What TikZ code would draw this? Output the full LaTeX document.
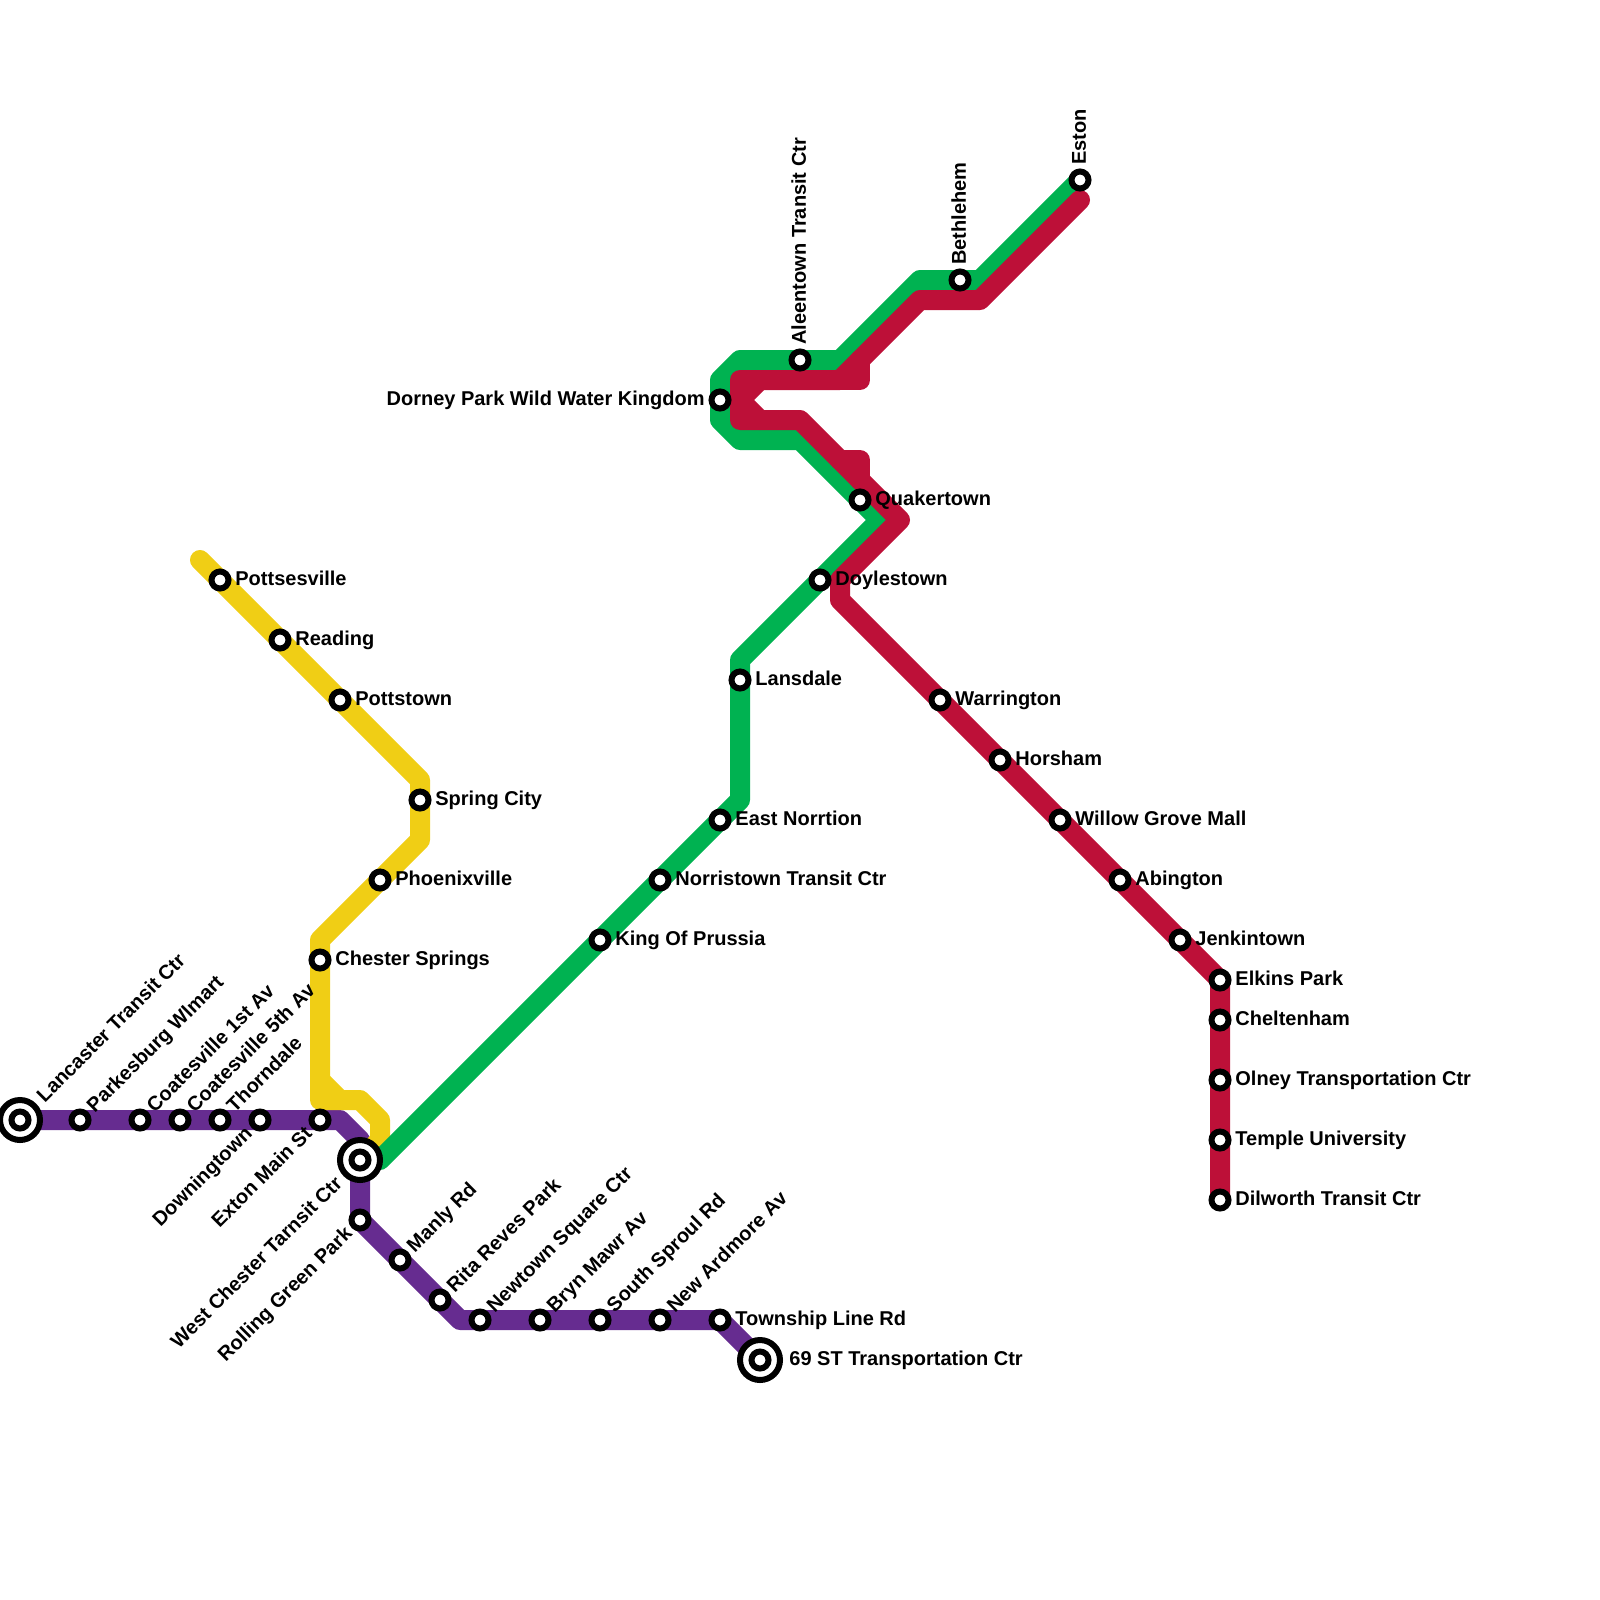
\documentclass[tikz,border=0pt]{standalone}
\usepackage{fontspec}
\setmainfont{Liberation Sans}
\usetikzlibrary{backgrounds}
\definecolor{linePurple}{RGB}{102,44,144}
\definecolor{lineYellow}{RGB}{240,206,21}
\definecolor{lineGreen}{RGB}{0,178,81}
\definecolor{lineRed}{RGB}{189,16,56}
\tikzset{
    railline/.style={line width=10pt, line join=round, line cap=round},
    stationstop/.style={circle, draw=black, fill=white, line width=3pt, minimum size=8.5pt, inner sep=0pt},
    stationring/.style={circle, draw=black, fill=white, line width=3pt, minimum size=20pt, inner sep=0pt},
    stationtext/.style={font=\bfseries\fontsize{10}{11}\selectfont, inner sep=0pt, text=black},
    txtright/.style={stationtext, anchor=base west, xshift=7.5pt, yshift=-2.9pt},
    txtfar/.style={stationtext, anchor=base west, xshift=14.5pt, yshift=-2.9pt},
    txtleft/.style={stationtext, anchor=base east, xshift=-7.5pt, yshift=-2.9pt},
    txtup/.style={stationtext, rotate=45, anchor=base west, xshift=7.5pt, yshift=-2.9pt},
    txtupfar/.style={stationtext, rotate=45, anchor=base west, xshift=14.5pt, yshift=-2.9pt},
    txtdown/.style={stationtext, rotate=45, anchor=base east, xshift=-7.5pt, yshift=-2.9pt},
    txtdownfar/.style={stationtext, rotate=45, anchor=base east, xshift=-14.5pt, yshift=-2.9pt},
    txtvert/.style={stationtext, rotate=90, anchor=base west, xshift=7.5pt, yshift=-2.9pt},
}

\begin{document}
\begin{tikzpicture}[x=0.5pt,y=-0.5pt]
    \useasboundingbox (0,0) rectangle (1600,1600);

    % interchange rings
    \node[stationring] (lancasterRing) at (20,1120) {};
    \node[stationring] (westchesterRing) at (360,1160) {};
    \node[stationring] (transportRing) at (760,1360) {};

    % stations
    \foreach \nm/\px/\py in {lancaster/20/1120, parkesburg/80/1120, coatesvilleA/140/1120,
        coatesvilleB/180/1120, thorndale/220/1120, downingtown/260/1120, exton/320/1120,
        westchester/360/1160, rollinggreen/360/1220, manly/400/1260, rita/440/1300,
        newtown/480/1320, brynmawr/540/1320, sproul/600/1320, ardmore/660/1320,
        township/720/1320, transport/760/1360,
        pottsesville/220/580, reading/280/640, pottstown/340/700, springcity/420/800,
        phoenixville/380/880, chester/320/960,
        prussia/600/940, norristown/660/880, eastnorrtion/720/820, lansdale/740/680,
        doylestown/820/580, quakertown/860/500, dorney/720/400, aleentown/800/360,
        bethlehem/960/280, eston/1080/180,
        warrington/940/700, horsham/1000/760, willowgrove/1060/820, abington/1120/880,
        jenkintown/1180/940, elkins/1220/980, cheltenham/1220/1020, olney/1220/1080,
        temple/1220/1140, dilworth/1220/1200}
        \node[stationstop] (\nm) at (\px,\py) {};

    \begin{scope}[on background layer]
        % purple line
        \draw[railline, linePurple] (lancaster.center) -- (exton.center) -- (340,1120) -- (360,1140)
            -- (westchester.center) -- (rollinggreen.center) -- (manly.center) -- (rita.center)
            -- (460,1320) -- (township.center) -- (transport.center);

        % yellow line
        \draw[railline, lineYellow] (200,560) -- (pottsesville.center) -- (reading.center)
            -- (pottstown.center) -- (420,780) -- (springcity.center) -- (420,840)
            -- (phoenixville.center) -- (320,940) -- (chester.center) -- (320,1100) -- (360,1100)
            -- (380,1120) -- (380,1140) -- (westchester.center);
        \draw[railline, lineYellow] (320,1080) -- (340,1100);

        % green line
        \draw[railline, lineGreen] (westchester.center) -- (380,1160) -- (prussia.center)
            -- (norristown.center) -- (eastnorrtion.center) -- (740,800) -- (lansdale.center)
            -- (740,660) -- (doylestown.center) -- (880,520) -- (quakertown.center) -- (800,440)
            -- (740,440) -- (720,420) -- (dorney.center) -- (720,380) -- (740,360)
            -- (aleentown.center) -- (840,360) -- (920,280) -- (bethlehem.center) -- (980,280)
            -- (eston.center);

        % red line
        \draw[railline, lineRed] (1080,200) -- (980,300) -- (920,300) -- (840,380)
            -- (740,380) -- (740,420) -- (800,420) -- (900,520) -- (840,580) -- (840,600)
            -- (warrington.center) -- (horsham.center)
            -- (willowgrove.center) -- (abington.center) -- (jenkintown.center) -- (elkins.center)
            -- (cheltenham.center) -- (olney.center) -- (temple.center) -- (dilworth.center);
        \draw[railline, lineRed] (760,380) -- (740,400) -- (760,420);
        \draw[railline, lineRed] (840,380) -- (860,380) -- (860,360);
        \draw[railline, lineRed] (840,460) -- (860,460) -- (860,480);
    \end{scope}

    % labels
    \foreach \nm/\stl/\txt in {lancaster/txtupfar/Lancaster Transit Ctr, parkesburg/txtup/Parkesburg Wlmart,
        coatesvilleA/txtup/Coatesville 1st Av, coatesvilleB/txtup/Coatesville 5th Av, thorndale/txtup/Thorndale,
        downingtown/txtdown/Downingtown, exton/txtdown/Exton Main St,
        westchester/txtdownfar/West Chester Tarnsit Ctr, rollinggreen/txtdown/Rolling Green Park,
        manly/txtup/Manly Rd, rita/txtup/Rita Reves Park, newtown/txtup/Newtown Square Ctr,
        brynmawr/txtup/Bryn Mawr Av, sproul/txtup/South Sproul Rd, ardmore/txtup/New Ardmore Av,
        township/txtright/Township Line Rd, transport/txtfar/69 ST Transportation Ctr,
        pottsesville/txtright/Pottsesville, reading/txtright/Reading, pottstown/txtright/Pottstown,
        springcity/txtright/Spring City, phoenixville/txtright/Phoenixville, chester/txtright/Chester Springs,
        prussia/txtright/King Of Prussia, norristown/txtright/Norristown Transit Ctr,
        eastnorrtion/txtright/East Norrtion, lansdale/txtright/Lansdale, doylestown/txtright/Doylestown,
        quakertown/txtright/Quakertown, dorney/txtleft/Dorney Park Wild Water Kingdom,
        aleentown/txtvert/Aleentown Transit Ctr, bethlehem/txtvert/Bethlehem, eston/txtvert/Eston,
        warrington/txtright/Warrington, horsham/txtright/Horsham, willowgrove/txtright/Willow Grove Mall,
        abington/txtright/Abington, jenkintown/txtright/Jenkintown, elkins/txtright/Elkins Park,
        cheltenham/txtright/Cheltenham, olney/txtright/Olney Transportation Ctr,
        temple/txtright/Temple University, dilworth/txtright/Dilworth Transit Ctr}
        \node[\stl] (\nm-txt) at (\nm.center) {\txt};
\end{tikzpicture}
\end{document}
